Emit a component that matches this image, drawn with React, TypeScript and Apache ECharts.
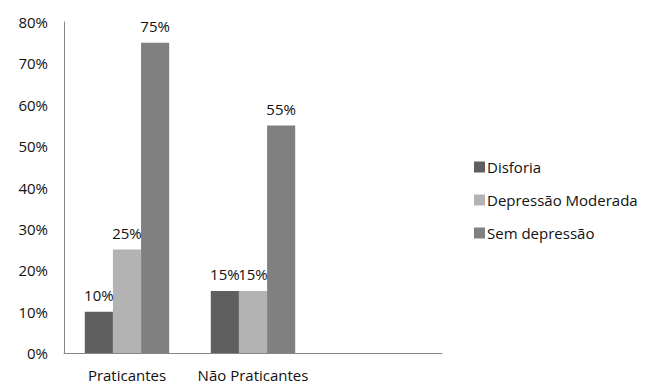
import React, { useEffect, useRef } from "react";
import * as echarts from "echarts";

const categories = ["Praticantes", "Não Praticantes", ""];
const disforia = [10, 15];
const depressaoModerada = [25, 15];
const semDepressao = [75, 55];
const seriesNames = ["Disforia", "Depressão Moderada", "Sem depressão"];
const colors = ["#5f5f5f", "#b3b3b3", "#808080"];

const FONT = "Open Sans";

export default function App() {
  const ref = useRef<HTMLDivElement>(null);
  useEffect(() => {
    if (!ref.current) return;
    const chart = echarts.init(ref.current, null, { renderer: "svg" });
    const values = [disforia, depressaoModerada, semDepressao];
    chart.setOption({
      animation: false,
      textStyle: { fontFamily: FONT },
      grid: { left: 64, right: 208, top: 22, bottom: 30, containLabel: false },
      legend: {
        orient: "vertical",
        left: 469,
        top: 154,
        itemWidth: 11,
        itemHeight: 11,
        itemGap: 17,
        icon: "rect",
        textStyle: { fontFamily: FONT, fontSize: 15, color: "#111", lineHeight: 16, padding: [0, 0, 0, -3] },
        data: seriesNames,
      },
      xAxis: {
        type: "category",
        data: categories,
        axisLine: { lineStyle: { color: "#868686" } },
        axisTick: { show: false },
        axisLabel: { fontFamily: FONT, fontSize: 15, color: "#111", margin: 14, interval: 0 },
      },
      yAxis: {
        type: "value",
        min: 0,
        max: 80,
        interval: 10,
        axisLine: { show: true, lineStyle: { color: "#868686" } },
        axisTick: { show: false },
        splitLine: { show: false },
        axisLabel: { fontFamily: FONT, fontSize: 15, color: "#111", margin: 16, formatter: "{value}%" },
      },
      series: seriesNames.map((name, i) => ({
        name,
        type: "bar",
        data: values[i],
        barGap: "0%",
        barCategoryGap: "33%",
        itemStyle: { color: colors[i] },
        label: {
          show: true,
          position: "top",
          distance: 9,
          formatter: "{c}%",
          fontFamily: FONT,
          fontSize: 15,
          color: "#111",
        },
      })),
    });
    return () => chart.dispose();
  }, []);
  return (
    <div
      ref={ref}
      style={{ position: "fixed", left: 0, top: 0, width: 650, height: 383, background: "#fff" }}
    />
  );
}
